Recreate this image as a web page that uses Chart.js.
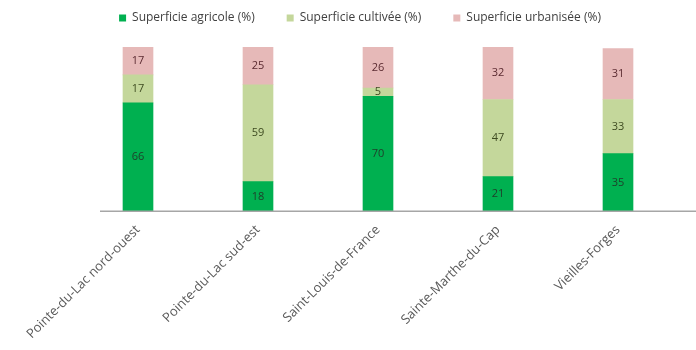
<!DOCTYPE html>
<html>
<head>
<meta charset="utf-8">
<script src="https://cdn.jsdelivr.net/npm/chart.js@4.4.1/dist/chart.umd.min.js"></script>
<style>
  html, body { margin: 0; padding: 0; background: #fff; }
  #wrap { width: 696px; height: 350px; }
</style>
</head>
<body>
<div id="wrap"><canvas id="chart"></canvas></div>
<script>
const categories = [
    'Pointe-du-Lac nord-ouest',
    'Pointe-du-Lac sud-est',
    'Saint-Louis-de-France',
    'Sainte-Marthe-du-Cap',
    'Vieilles-Forges',
];
const agricole = [66, 18, 70, 21, 35];
const cultivee = [17, 59, 5, 47, 33];
const urbanisee = [17, 25, 26, 32, 31];

const fontFamily = '"Open Sans", "DejaVu Sans", sans-serif';

// values written in the middle of each segment
const segmentLabels = {
    id: 'segmentLabels',
    afterDatasetsDraw(chart) {
        const ctx = chart.ctx;
        ctx.save();
        ctx.font = '11px ' + fontFamily;
        ctx.textAlign = 'center';
        ctx.textBaseline = 'middle';
        chart.data.datasets.forEach((ds, i) => {
            const meta = chart.getDatasetMeta(i);
            meta.data.forEach((bar, j) => {
                const top = Math.max(bar.y, chart.chartArea.top);
                const y = (top + bar.base) / 2;
                ctx.fillStyle = ds.labelColor;
                ctx.fillText(ds.data[j], bar.x, y);
            });
        });
        ctx.restore();
    },
};

// baseline runs past the plot area, like the original
const baseline = {
    id: 'baseline',
    afterDraw(chart) {
        const ctx = chart.ctx;
        const y = chart.scales.y.getPixelForValue(0);
        ctx.save();
        ctx.strokeStyle = '#a6a6a6';
        ctx.lineWidth = 1.5;
        ctx.beginPath();
        ctx.moveTo(chart.chartArea.left + 22, y);
        ctx.lineTo(chart.width, y);
        ctx.stroke();
        ctx.restore();
    },
};

// more room under the legend, and legend centred on the whole canvas
const legendGap = {
    id: 'legendGap',
    beforeInit(chart) {
        const fit = chart.legend.fit;
        chart.legend.fit = function () {
            fit.bind(chart.legend)();
            this.height += 13;
        };
    },
    afterLayout(chart) {
        chart.legend.left -= 18;
        chart.legend.right -= 18;
    },
};

new Chart(document.getElementById('chart'), {
    type: 'bar',
    data: {
        labels: categories,
        datasets: [
            {
                label: 'Superficie agricole (%)',
                data: agricole,
                backgroundColor: '#00b050',
                labelColor: '#1f3d2a',
            },
            {
                label: 'Superficie cultivée (%)',
                data: cultivee,
                backgroundColor: '#c4d79b',
                labelColor: '#3d4a20',
            },
            {
                label: 'Superficie urbanisée (%)',
                data: urbanisee,
                backgroundColor: '#e6b9b8',
                labelColor: '#5a2a30',
            },
        ],
    },
    options: {
        responsive: true,
        maintainAspectRatio: false,
        animation: false,
        layout: {
            padding: { left: 78, right: 18, top: -20, bottom: 5 },
        },
        datasets: {
            bar: {
                barThickness: 30,
                categoryPercentage: 1,
            },
        },
        plugins: {
            legend: {
                position: 'top',
                labels: {
                    color: '#404040',
                    boxWidth: 7,
                    boxHeight: 7,
                    padding: 32,
                    font: { family: fontFamily, size: 12 },
                },
            },
            tooltip: { enabled: false },
        },
        scales: {
            x: {
                stacked: true,
                grid: { display: false },
                border: { display: false },
                ticks: {
                    color: '#595959',
                    autoSkip: false,
                    minRotation: 45,
                    maxRotation: 45,
                    font: { family: fontFamily, size: 13 },
                },
            },
            y: {
                stacked: true,
                display: false,
                min: 0,
                max: 100,
            },
        },
    },
    plugins: [segmentLabels, baseline, legendGap],
});
</script>
</body>
</html>
